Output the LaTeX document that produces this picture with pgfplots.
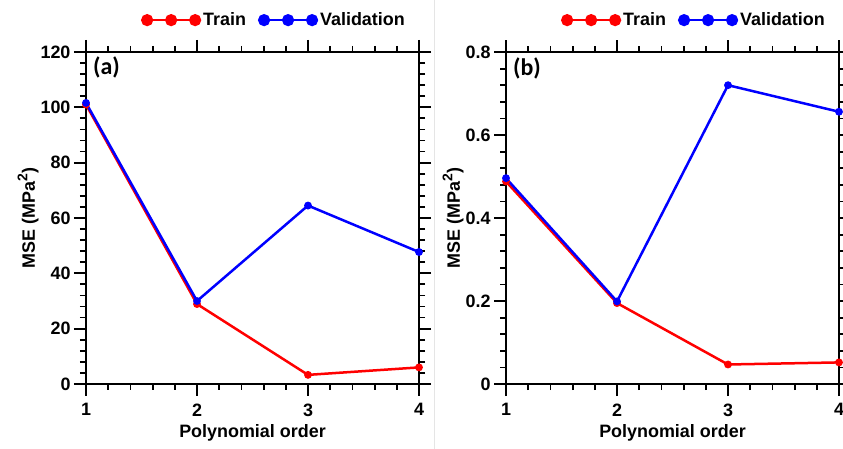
\documentclass[border=0pt]{standalone}
\usepackage{fontspec}
\setmainfont{Liberation Sans}
\newfontfamily\calfont{Carlito}
\usepackage{pgfplots}
\pgfplotsset{compat=1.18}
\definecolor{tr}{RGB}{255,0,0}
\definecolor{va}{RGB}{0,0,255}
\pgfplotsset{
 myaxis/.style={
  scale only axis, width=333bp, height=332bp,
  xmin=1, xmax=4, xtick={1,2,3,4}, minor x tick num=4, minor y tick num=4,
  axis line style={line width=2bp},
  tick align=outside,
  major tick length=12bp, minor tick length=6bp,
  every tick/.style={black, line width=1.8bp},
  /pgf/number format/assume math mode=true,
  tick label style={font=\fontsize{18}{20}\selectfont\bfseries},
  xticklabel shift=4bp,
  label style={font=\fontsize{18}{20}\selectfont\bfseries},
  xlabel={Polynomial order},
  xlabel style={yshift=-1bp},
  ylabel={MSE (MPa\raisebox{0.42em}{\fontsize{14}{14}\selectfont 2})},
  ylabel style={yshift=-5bp},
  clip=false,
  legend columns=2,
  legend style={at={(0.964,1.096)}, anchor=east, draw=none, fill=none, inner sep=0pt,
    font=\fontsize{18}{20}\selectfont\bfseries,
    /tikz/every even column/.append style={column sep=10bp}},
  legend image code/.code={
    \draw[##1, mark=none, line width=1.5bp] (0bp,0bp) -- (48bp,0bp);
    \fill[##1] (0bp,0bp) circle (4.8bp) (24bp,0bp) circle (4.8bp) (48bp,0bp) circle (4.8bp);
  },
 },
 trs/.style={color=tr, line width=2.5bp, mark=*, mark size=2.6bp},
 vas/.style={color=va, line width=2.5bp, mark=*, mark size=2.6bp},
}
\begin{document}
\begin{tikzpicture}
\useasboundingbox (0,0) rectangle (843bp,449bp);
\draw[black!10, line width=0.8bp] (434.5bp,0bp) -- (434.5bp,449bp);
\begin{axis}[myaxis, at={(86bp,65bp)}, anchor=south west,
  ymin=0, ymax=120, ytick={0,20,...,120}]
\addplot[trs] coordinates {(1,101.0) (2,28.9) (3,3.3) (4,6.0)};
\addlegendentry{Train}
\addplot[vas] coordinates {(1,101.6) (2,30.0) (3,64.5) (4,47.7)};
\addlegendentry{Validation}
\node[anchor=west, inner sep=0pt, font=\calfont\fontsize{24}{24}\selectfont\bfseries] at (rel axis cs:0.021,0.952) {(a)};
\end{axis}
\begin{axis}[myaxis, at={(506bp,65bp)}, anchor=south west,
  ymin=0, ymax=0.8, ytick={0,0.2,...,0.8},
  yticklabel style={/pgf/number format/fixed}]
\addplot[trs] coordinates {(1,0.488) (2,0.195) (3,0.047) (4,0.052)};
\addlegendentry{Train}
\addplot[vas] coordinates {(1,0.496) (2,0.199) (3,0.720) (4,0.656)};
\addlegendentry{Validation}
\node[anchor=west, inner sep=0pt, font=\calfont\fontsize{24}{24}\selectfont\bfseries] at (rel axis cs:0.021,0.952) {(b)};
\end{axis}
\end{tikzpicture}
\end{document}
